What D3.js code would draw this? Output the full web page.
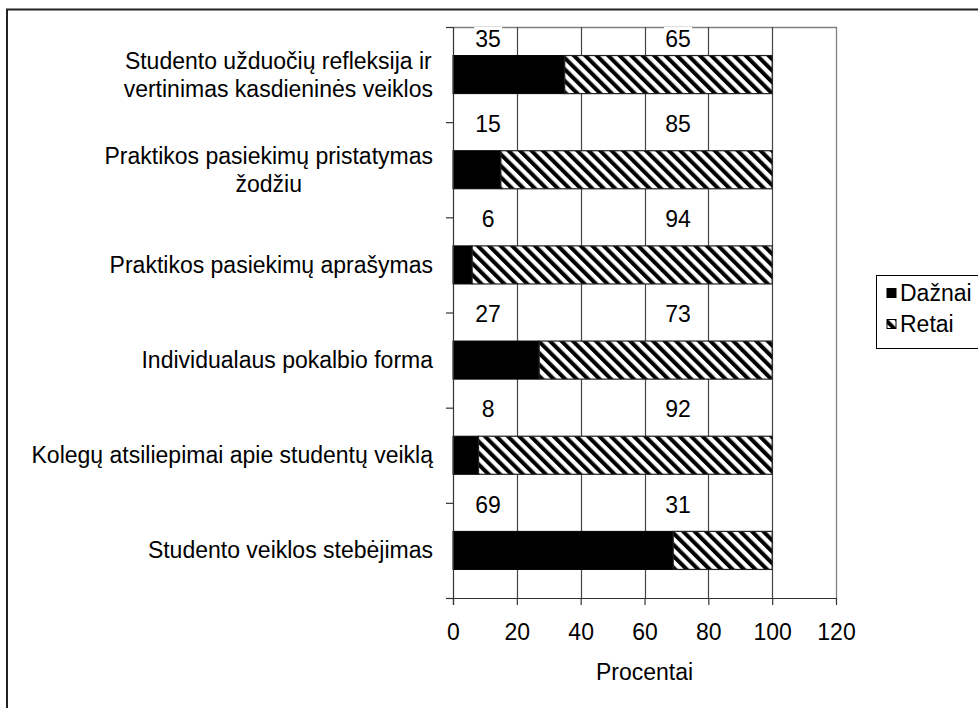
<!DOCTYPE html>
<html>
<head>
<meta charset="utf-8">
<script src="https://cdn.jsdelivr.net/npm/d3@7"></script>
<style>
  body { margin: 0; background: #fff; }
  text { font-family: "Liberation Sans", Arial, sans-serif; fill: #000; }
</style>
</head>
<body>
<div id="root"></div>
<script>
// chart data, top to bottom
const categories = [
    "Studento užduočių refleksija ir|vertinimas kasdieninės veiklos",
    "Praktikos pasiekimų pristatymas|žodžiu",
    "Praktikos pasiekimų aprašymas",
    "Individualaus pokalbio forma",
    "Kolegų atsiliepimai apie studentų veiklą",
    "Studento veiklos stebėjimas"
];
const daznai = [35, 15, 6, 27, 8, 69];
const retai = [65, 85, 94, 73, 92, 31];
const seriesNames = ["Dažnai", "Retai"];
const xTicks = [0, 20, 40, 60, 80, 100, 120];
const xTitle = "Procentai";

document.addEventListener("DOMContentLoaded", () => {
    const width = 978, height = 708;
    const fs = 23;

    const svg = d3.select("#root").append("svg")
        .attr("width", width)
        .attr("height", height);

    const defs = svg.append("defs");
    const pat = defs.append("pattern")
        .attr("id", "hatch")
        .attr("patternUnits", "userSpaceOnUse")
        .attr("width", 8.1)
        .attr("height", 8.1)
        .attr("patternTransform", "rotate(-45)");
    pat.append("rect").attr("width", 8.1).attr("height", 8.1).attr("fill", "#fff");
    pat.append("rect").attr("width", 4).attr("height", 8.1).attr("fill", "#000");

    // outer frame (runs off the right and bottom edge)
    svg.append("rect")
        .attr("x", 7).attr("y", 9.5)
        .attr("width", 1000).attr("height", 1000)
        .attr("fill", "none")
        .attr("stroke", "#222")
        .attr("stroke-width", 2);

    const left = 453, right = 836, top = 27, bottom = 598;

    const x = d3.scaleLinear().domain([0, 120]).range([left, right]);
    const y = d3.scaleBand().domain(categories).range([top, bottom])
        .paddingInner(0.6).paddingOuter(0.3);
    const yEdge = d3.scaleLinear().domain([0, categories.length]).range([top, bottom]);

    // plot border (top, right)
    svg.append("path")
        .attr("d", `M${left},${top + 0.5}H${right + 0.5}V${bottom}`)
        .attr("fill", "none")
        .attr("stroke", "#808080")
        .attr("stroke-width", 1.3);

    // gridlines
    svg.append("g").selectAll("line")
        .data(xTicks.filter(d => d > 0 && d < 120))
        .enter().append("line")
        .attr("x1", d => Math.round(x(d)) + 0.5)
        .attr("x2", d => Math.round(x(d)) + 0.5)
        .attr("y1", top)
        .attr("y2", bottom)
        .attr("stroke", "#444")
        .attr("stroke-width", 1.2);

    // bars
    const rows = categories.map((c, i) => ({ cat: c, a: daznai[i], b: retai[i] }));
    const bars = svg.append("g");
    bars.selectAll(".bar-a")
        .data(rows)
        .enter().append("rect")
        .attr("x", x(0))
        .attr("y", d => y(d.cat))
        .attr("width", d => x(d.a) - x(0))
        .attr("height", y.bandwidth())
        .attr("fill", "#000")
        .attr("stroke", "#000");
    bars.selectAll(".bar-b")
        .data(rows)
        .enter().append("rect")
        .attr("x", d => x(d.a))
        .attr("y", d => y(d.cat))
        .attr("width", d => x(d.a + d.b) - x(d.a))
        .attr("height", y.bandwidth())
        .attr("fill", "url(#hatch)")
        .attr("stroke", "#222")
        .attr("stroke-width", 1.2);

    // data labels
    const labels = [];
    rows.forEach((d, i) => {
        const ly = Math.max(yEdge(i) + 1.5, top + 12);
        labels.push({ v: d.a, x: x(11), y: ly });
        labels.push({ v: d.b, x: x(70.5), y: ly });
    });
    const lab = svg.append("g").selectAll("g")
        .data(labels)
        .enter().append("g");
    lab.append("rect")
        .attr("x", d => d.x - 14)
        .attr("y", d => d.y - 12)
        .attr("width", 28)
        .attr("height", 22)
        .attr("fill", "#fff");
    lab.append("text")
        .attr("x", d => d.x)
        .attr("y", d => d.y)
        .attr("dy", "0.36em")
        .attr("text-anchor", "middle")
        .style("font-size", fs + "px")
        .text(d => d.v);

    // x axis
    const xAxis = svg.append("g")
        .attr("transform", `translate(0,${bottom})`)
        .call(d3.axisBottom(x).tickValues(xTicks).tickSize(7).tickPadding(19).tickSizeOuter(0));
    xAxis.select(".domain").remove();
    xAxis.selectAll("line").attr("stroke", "#333").attr("stroke-width", 1.2);
    xAxis.selectAll("text")
        .style("font-size", fs + "px")
        .style("font-family", "'Liberation Sans', Arial, sans-serif");
    svg.append("line")
        .attr("x1", 446).attr("x2", right)
        .attr("y1", bottom + 0.5).attr("y2", bottom + 0.5)
        .attr("stroke", "#333").attr("stroke-width", 1.2);

    svg.append("text")
        .attr("x", (x(0) + x(120)) / 2)
        .attr("y", 680)
        .attr("text-anchor", "middle")
        .style("font-size", fs + "px")
        .text(xTitle);

    // y axis: ticks at the category boundaries
    const yAxis = svg.append("g")
        .attr("transform", `translate(${left},0)`)
        .call(d3.axisLeft(yEdge).ticks(categories.length).tickSize(7).tickFormat("").tickSizeOuter(0));
    yAxis.select(".domain").remove();
    yAxis.selectAll("line").attr("stroke", "#333").attr("stroke-width", 1.2);
    svg.append("line")
        .attr("x1", left + 0.5).attr("x2", left + 0.5)
        .attr("y1", top).attr("y2", bottom + 7)
        .attr("stroke", "#333").attr("stroke-width", 1.2);

    // category labels: block right-aligned, lines centred within block
    const catG = svg.append("g").selectAll("g")
        .data(categories)
        .enter().append("g");
    catG.each(function (c) {
        const g = d3.select(this);
        const lines = c.split("|");
        const lh = 28;
        const cy = y(c) + y.bandwidth() / 2;
        const ts = lines.map((t, i) => g.append("text")
            .attr("y", cy + (i - (lines.length - 1) / 2) * lh)
            .attr("dy", "0.35em")
            .attr("text-anchor", "middle")
            .style("font-size", fs + "px")
            .text(t));
        const w = d3.max(ts, t => t.node().getComputedTextLength());
        ts.forEach(t => t.attr("x", 433 - w / 2));
    });

    // legend
    const lg = svg.append("g");
    lg.append("rect")
        .attr("x", 876.5).attr("y", 275.5)
        .attr("width", 200).attr("height", 73)
        .attr("fill", "#fff").attr("stroke", "#000");
    const items = lg.selectAll(".item")
        .data(seriesNames)
        .enter().append("g")
        .attr("transform", (d, i) => `translate(887,${293 + i * 31})`);
    items.append("rect")
        .attr("x", 0).attr("y", -4.5)
        .attr("width", 9).attr("height", 9)
        .attr("fill", (d, i) => i === 0 ? "#000" : "url(#hatch)")
        .attr("stroke", "#000");
    items.append("text")
        .attr("x", 13)
        .attr("dy", "0.36em")
        .style("font-size", fs + "px")
        .text(d => d);
});
</script>
</body>
</html>
